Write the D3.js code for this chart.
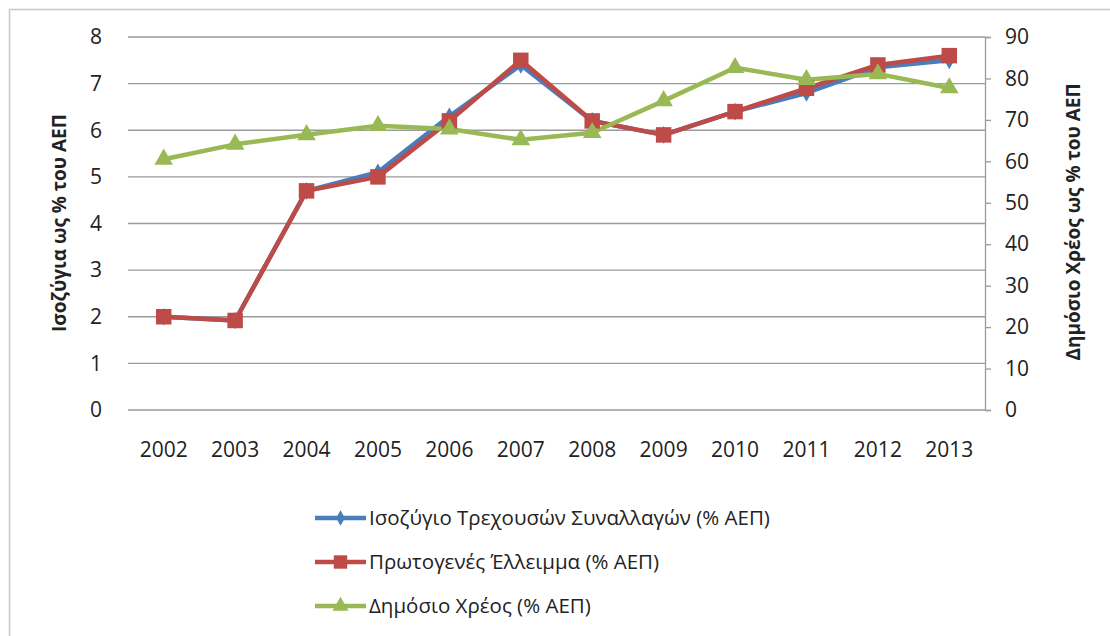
<!DOCTYPE html>
<html lang="el">
<head>
<meta charset="UTF-8">
<title>Ισοζύγια και Χρέος</title>
<script src="https://d3js.org/d3.v7.min.js"></script>
<style>
  body { margin: 0; background: #fff; }
  text { font-family: "Open Sans", "Noto Sans", sans-serif; fill: #222; }
</style>
</head>
<body>
<script>

var years = ["2002","2003","2004","2005","2006","2007","2008","2009","2010","2011","2012","2013"];
// left axis series (% ΑΕΠ)
var currentAccount = [2.0, 1.92, 4.7, 5.1, 6.3, 7.4, 6.2, 5.9, 6.4, 6.8, 7.35, 7.5];
var primaryDeficit = [2.0, 1.92, 4.7, 5.0, 6.2, 7.5, 6.2, 5.9, 6.4, 6.9, 7.4, 7.6];
// right axis series
var publicDebt = [60.5, 64.1, 66.4, 68.6, 67.8, 65.2, 66.9, 74.6, 82.6, 79.7, 81.1, 77.7];
var leftTicks = [0,1,2,3,4,5,6,7,8];
var rightTicks = [0,10,20,30,40,50,60,70,80,90];
var names = ["Ισοζύγιο Τρεχουσών Συναλλαγών (% ΑΕΠ)", "Πρωτογενές Έλλειμμα (% ΑΕΠ)", "Δημόσιο Χρέος (% ΑΕΠ)"];

var w = 1110, h = 636;
var plotL = 128, plotR = 985, plotT = 37, plotB = 410;

var svg = d3.select('body').append('svg').attr('width', w).attr('height', h);

// outer frame
svg.append('rect').attr('x', 9.5).attr('y', 9.5).attr('width', w).attr('height', h)
  .attr('fill', 'none').attr('stroke', '#c8c8c8').attr('stroke-width', 1.5);

var x = d3.scaleBand().domain(years).range([plotL, plotR]);
var yL = d3.scaleLinear().domain([0, 8]).range([plotB, plotT]);
var yR = d3.scaleLinear().domain([0, 90]).range([plotB, plotT]);

// gridlines from left axis
svg.append('g').selectAll('line').data(leftTicks).enter().append('line')
  .attr('x1', plotL).attr('x2', plotR)
  .attr('y1', function(d){ return yL(d); }).attr('y2', function(d){ return yL(d); })
  .attr('stroke', '#9a9a9a').attr('stroke-width', 1.3);

// left axis labels
svg.append('g').selectAll('text').data(leftTicks).enter().append('text')
  .attr('x', 102).attr('y', function(d){ return yL(d); })
  .attr('dy', '0.35em').attr('text-anchor', 'end').attr('font-size', 21)
  .text(function(d){ return d; });

// right axis
var ra = svg.append('g').attr('transform', 'translate(' + plotR + ',0)')
  .call(d3.axisRight(yR).tickValues(rightTicks).tickSize(6).tickPadding(14));
ra.select('.domain').attr('stroke', '#9a9a9a').attr('stroke-width', 1.3);
ra.selectAll('.tick line').attr('stroke', '#9a9a9a').attr('stroke-width', 1.3);
ra.selectAll('.tick text').attr('font-size', 21).attr('fill', '#222')
  .style('font-family', '"Open Sans", sans-serif');

// x labels
svg.append('g').selectAll('text').data(years).enter().append('text')
  .attr('x', function(d){ return x(d) + x.bandwidth()/2; }).attr('y', 457)
  .attr('text-anchor', 'middle').attr('font-size', 21)
  .text(function(d){ return d; });

// axis titles
svg.append('text').attr('transform', 'translate(66,223) rotate(-90)')
  .attr('text-anchor', 'middle').attr('font-size', 19).attr('font-weight', 'bold')
  .text('Ισοζύγια ως % του ΑΕΠ');
svg.append('text').attr('transform', 'translate(1080,222) rotate(-90)')
  .attr('text-anchor', 'middle').attr('font-size', 19).attr('font-weight', 'bold')
  .text('Δημόσιο Χρέος ως % του ΑΕΠ');

var series = [
  { vals: currentAccount, y: yL, color: '#4a7ebb', sym: d3.symbolDiamond, size: 90 },
  { vals: primaryDeficit, y: yL, color: '#be4b48', sym: d3.symbolSquare, size: 240 },
  { vals: publicDebt, y: yR, color: '#98b954', sym: d3.symbolTriangle, size: 150 }
];

function cx(i){ return x(years[i]) + x.bandwidth()/2; }

series.forEach(function(s){
  var line = d3.line().x(function(d, i){ return cx(i); }).y(function(d){ return s.y(d); });
  svg.append('path').datum(s.vals).attr('d', line)
    .attr('fill', 'none').attr('stroke', s.color).attr('stroke-width', 4.5).attr('stroke-linejoin', 'round');
});
series.forEach(function(s){
  svg.append('g').selectAll('path').data(s.vals).enter().append('path')
    .attr('d', d3.symbol().type(s.sym).size(s.size))
    .attr('transform', function(d, i){ return 'translate(' + cx(i) + ',' + s.y(d) + ')'; })
    .attr('fill', s.color);
});

// legend
var leg = svg.append('g');
var legY = [518, 562, 606];
series.forEach(function(s, i){
  var g = leg.append('g').attr('transform', 'translate(0,' + legY[i] + ')');
  g.append('line').attr('x1', 315).attr('x2', 366).attr('y1', 0).attr('y2', 0)
    .attr('stroke', s.color).attr('stroke-width', 4.5);
  g.append('path').attr('d', d3.symbol().type(s.sym).size(s.size * 0.75))
    .attr('transform', 'translate(340.5,0)').attr('fill', s.color);
  g.append('text').attr('x', 369).attr('y', 0).attr('dy', '0.35em')
    .attr('font-size', 20.5).text(names[i]);
});

</script>
</body>
</html>
